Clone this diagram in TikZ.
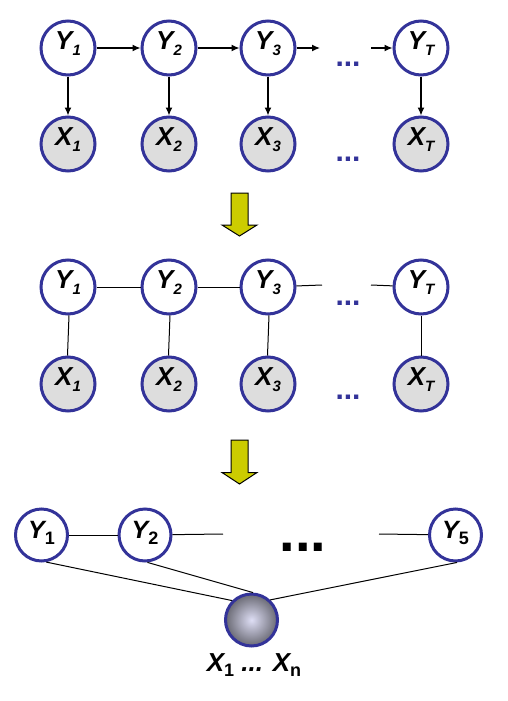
\documentclass[tikz,border=0pt]{standalone}
\usepackage{fontspec}
\setmainfont{Liberation Sans}
\usetikzlibrary{arrows.meta}
\definecolor{navy}{RGB}{51,51,153}
\definecolor{xgray}{RGB}{221,221,221}
\definecolor{yarrow}{RGB}{204,204,0}
\definecolor{ballin}{RGB}{222,222,245}
\definecolor{ballout}{RGB}{105,105,115}
\newcommand\subi[1]{\raisebox{-6.5pt}{\fontsize{15}{15}\selectfont #1}}
\newcommand\subu[1]{\raisebox{-5.5pt}{\fontsize{18}{18}\selectfont\upshape #1}}
\begin{document}
\begin{tikzpicture}[x=1pt,y=-1pt,
  gnode/.style={circle,draw=navy,line width=3pt,minimum size=54pt,inner sep=0pt,
    font=\fontsize{26}{26}\selectfont\bfseries\itshape,text height=12pt,text depth=10pt},
  ynode/.style={gnode,fill=white},
  xnode/.style={gnode,fill=xgray},
  pnode/.style={gnode,fill=white,minimum size=52pt,font=\fontsize{25}{25}\selectfont\bfseries\itshape,text height=15pt,text depth=8pt},
  arr/.style={line width=1.3pt,-{Latex[length=8pt,width=7pt]}},
  edge/.style={line width=1pt},
  bdots/.style={text=navy,font=\fontsize{30}{30}\selectfont\bfseries,inner sep=0pt},
  kdots/.style={text=black,font=\fontsize{56}{56}\selectfont\bfseries,inner sep=0pt},
  downarrow/.style={fill=yarrow,draw=black,line width=1pt,line join=miter}
]
\useasboundingbox (0,0) rectangle (507,701);

% ---------- panel 1 ----------
\node[ynode] (A1) at (68,48) {Y\subi{1}};
\node[ynode] (A2) at (169,48) {Y\subi{2}};
\node[ynode] (A3) at (268,48) {Y\subi{3}};
\node[ynode] (AT) at (421,48) {Y\subi{T}};
\node[xnode] (B1) at (68,144) {X\subi{1}};
\node[xnode] (B2) at (169,144) {X\subi{2}};
\node[xnode] (B3) at (268,144) {X\subi{3}};
\node[xnode] (BT) at (421,144) {X\subi{T}};
\coordinate (a3e) at (320,48);
\coordinate (ats) at (371,48);
\node[bdots] (ad1) at (348,64) {...};
\node[bdots] (ad2) at (348,159) {...};
\draw[arr] (A1) -- (A2);
\draw[arr] (A2) -- (A3);
\draw[arr] (A3) -- (a3e);
\draw[arr] (ats) -- (AT);
\draw[arr] (A1) -- (B1);
\draw[arr] (A2) -- (B2);
\draw[arr] (A3) -- (B3);
\draw[arr] (AT) -- (BT);

% ---------- arrow 1 ----------
\draw[downarrow] (231,193) -- (248,193) -- (248,225) -- (257,225) -- (239.5,236)
  -- (222,225) -- (231,225) -- cycle;

% ---------- panel 2 ----------
\node[ynode] (C1) at (68,287) {Y\subi{1}};
\node[ynode] (C2) at (169,287) {Y\subi{2}};
\node[ynode] (C3) at (268,287) {Y\subi{3}};
\node[ynode] (CT) at (421,287) {Y\subi{T}};
\node[xnode] (D1) at (68,384) {X\subi{1}};
\node[xnode] (D2) at (169,384) {X\subi{2}};
\node[xnode] (D3) at (268,384) {X\subi{3}};
\node[xnode] (DT) at (421,384) {X\subi{T}};
\coordinate (c3e) at (322,285);
\coordinate (cts) at (371,285);
\node[bdots] (cd1) at (348,303) {...};
\node[bdots] (cd2) at (348,397) {...};
\draw[edge] (C1) -- (C2);
\draw[edge] (C2) -- (C3);
\draw[edge] (C3) -- (c3e);
\draw[edge] (cts) -- (CT);
\draw[edge] (C1.-88) -- (D1.91);
\draw[edge] (C2.-88) -- (D2.91);
\draw[edge] (C3.-88) -- (D3.91);
\draw[edge] (CT) -- (DT);

% ---------- arrow 2 ----------
\draw[downarrow] (231,440) -- (248,440) -- (248,472.5) -- (257,472.5) -- (239.5,484)
  -- (222,472.5) -- (231,472.5) -- cycle;

% ---------- panel 3 ----------
\node[pnode] (P1) at (41.5,535) {Y\subu{1}};
\node[pnode] (P2) at (145,535) {Y\subu{2}};
\node[pnode] (P5) at (455.5,535) {Y\subu{5}};
\node[gnode,minimum size=52pt,inner color=ballin,outer color=ballout] (XX) at (251.5,620) {};
\node[kdots] (pd) at (303,547) {...};
\coordinate (p2e) at (223,534);
\coordinate (p5s) at (379,534);
\draw[edge] (P1) -- (P2);
\draw[edge] (P2) -- (p2e);
\draw[edge] (p5s) -- (P5);
\draw[edge] (P1.-80) -- (XX.135);
\draw[edge] (P2.-85) -- (XX.87);
\draw[edge] (P5.-87) -- (XX.47);
\node[font=\fontsize{26}{26}\selectfont\bfseries\itshape,anchor=base,inner sep=0pt]
  (lab) at (254,671) {X\subu{1} ... X\subu{n}};
\end{tikzpicture}
\end{document}
